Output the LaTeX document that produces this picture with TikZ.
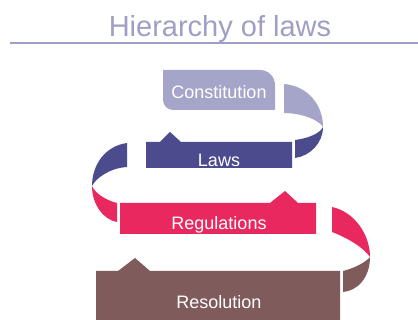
\documentclass[tikz,border=0pt]{standalone}
\usepackage{fontspec}
\setmainfont{Liberation Sans}
\definecolor{titulo}{HTML}{9E9EC6}
\definecolor{constit}{HTML}{A5A5C9}
\definecolor{leyes}{HTML}{4B4B8D}
\definecolor{reglam}{HTML}{E8285F}
\definecolor{resol}{HTML}{7F5B5B}
\begin{document}
\begin{tikzpicture}[x=1pt,y=-1pt,
		texto/.style={text=white,font=\fontsize{18}{18}\selectfont,inner sep=0pt,anchor=base}]
			\useasboundingbox (0,0) rectangle (418,320);

			% Titulo
			\node[text=titulo,font=\fontsize{29}{29}\selectfont,inner sep=0pt,anchor=base] (titulo) at (220,37) {Hierarchy of laws};
			\draw[titulo,line width=1.2pt] (10,43) -- (418,43);

			% Pliegues
			\fill[constit] (284,84) .. controls (308,86) and (323,105) .. (323,127) .. controls (318,119) and (300,113) .. (284,113) -- cycle;
			\fill[leyes] (323,127) .. controls (323,143) and (310,156) .. (295,158) -- (295,140) .. controls (310,138) and (320,133) .. (323,127);
			\fill[leyes] (127,143) .. controls (105,146) and (92,165) .. (92,186) .. controls (96,178) and (110,168) .. (127,167) -- cycle;
			\fill[reglam] (92,186) .. controls (92,205) and (104,220) .. (117,222) -- (117,203) .. controls (105,200) and (95,193) .. (92,186);
			\fill[reglam] (332,207) .. controls (355,212) and (370,235) .. (370,257) .. controls (364,248) and (348,238) .. (332,232) -- cycle;
			\fill[resol] (370,257) .. controls (370,278) and (357,291) .. (343,292) -- (343,271) .. controls (355,268) and (366,262) .. (370,257);

			% Cajas
			\fill[constit] (163,70) -- (260,70) .. controls (268.3,70) and (275,76.7) .. (275,85) -- (275,110) -- (173,110) .. controls (167.5,110) and (163,105.5) .. (163,100) -- cycle;
			\fill[leyes] (146,142) -- (160,142) -- (170,132) -- (181,142) -- (292,142) -- (292,168) -- (146,168) -- cycle;
			\fill[reglam] (120,203) -- (270,203) -- (285,191) -- (298,203) -- (316,203) -- (316,234) -- (120,234) -- cycle;
			\fill[resol] (96,271) -- (118,271) -- (135,258) -- (150,271) -- (340,271) -- (340,320) -- (96,320) -- cycle;

			\node[texto] (constitucion) at (219,99) {Constitution};
			\node[texto] (leyes) at (219,167) {Laws};
			\node[texto] (reglamentos) at (219,230) {Regulations};
			\node[texto] (resolucion) at (219,309) {Resolution};

		    \end{tikzpicture}
\end{document}
